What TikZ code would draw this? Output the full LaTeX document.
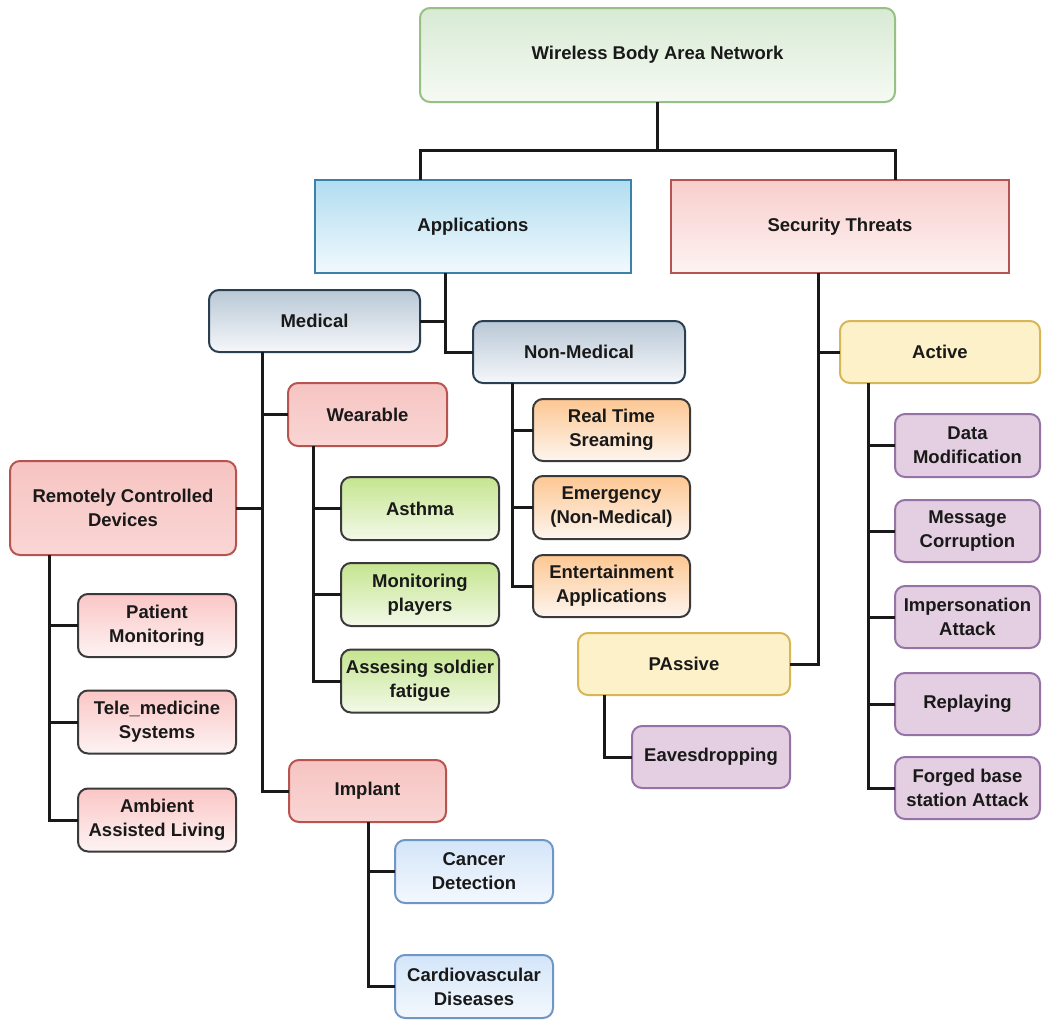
\documentclass[tikz,border=0pt]{standalone}
\usepackage{fontspec}
\setmainfont{Liberation Sans}
\begin{document}
\begin{tikzpicture}[x=1pt,y=-1pt,
  base/.style={draw, line width=2pt, rounded corners=10pt, inner sep=0pt, outer sep=0pt,
    align=center, font=\bfseries\fontsize{18.5}{24}\selectfont, text=black!90},
  grad/.style 2 args={top color=#1, bottom color=#2},
  link/.style={line width=3pt, black!90},
  rootbox/.style={base, grad={roottop}{rootbot}, draw=rootline},
  topbox/.style={base, rounded corners=0pt},
  groupbox/.style={base, grad={medtop}{medbot}, draw=medline},
  redbox/.style={base, grad={redtop}{redbot}, draw=redline},
  greenbox/.style={base, grad={greentop}{greenbot}, draw=darkline},
  orangebox/.style={base, grad={orangetop}{orangebot}, draw=darkline},
  pinkbox/.style={base, grad={pinktop}{pinkbot}, draw=darkline},
  bluebox/.style={base, grad={bluetop}{bluebot}, draw=blueline},
  yellowbox/.style={base, fill=yellowfill, draw=yellowline},
  purplebox/.style={base, fill=purplefill, draw=purpleline}
]
\definecolor{rootline}{HTML}{97C184}
\definecolor{roottop}{HTML}{D7EAD3}
\definecolor{rootbot}{HTML}{F6FAF4}
\definecolor{appline}{HTML}{3A82A8}
\definecolor{apptop}{HTML}{B1DDF0}
\definecolor{appbot}{HTML}{F2F9FD}
\definecolor{secline}{HTML}{B85450}
\definecolor{sectop}{HTML}{F8CECC}
\definecolor{secbot}{HTML}{FDF3F2}
\definecolor{medline}{HTML}{2B3F52}
\definecolor{medtop}{HTML}{B9C8D6}
\definecolor{medbot}{HTML}{F5F7FA}
\definecolor{redline}{HTML}{B85450}
\definecolor{redtop}{HTML}{F6C4C2}
\definecolor{redbot}{HTML}{F9D6D4}
\definecolor{darkline}{HTML}{3A3A3A}
\definecolor{greentop}{HTML}{C5E58F}
\definecolor{greenbot}{HTML}{F3F9E8}
\definecolor{orangetop}{HTML}{FDC792}
\definecolor{orangebot}{HTML}{FDF5EE}
\definecolor{pinktop}{HTML}{FBC6C6}
\definecolor{pinkbot}{HTML}{FDF3F3}
\definecolor{bluetop}{HTML}{D4E5F9}
\definecolor{bluebot}{HTML}{F3F8FD}
\definecolor{blueline}{HTML}{7096C6}
\definecolor{yellowfill}{HTML}{FDF1C9}
\definecolor{yellowline}{HTML}{D6B656}
\definecolor{purplefill}{HTML}{E4CFE2}
\definecolor{purpleline}{HTML}{9673A6}

% canvas
\fill[white] (0,0) rectangle (1050,1023);
\useasboundingbox (0,0) rectangle (1050,1023);

% x (or y) positions of the trunk lines
\coordinate (topbus) at (0,150);
\coordinate (appbus) at (445,0);
\coordinate (secbus) at (818,0);
\coordinate (medbus) at (262,0);
\coordinate (wearbus) at (313,0);
\coordinate (rcdbus) at (49,0);
\coordinate (impbus) at (368,0);
\coordinate (nmbus) at (512,0);
\coordinate (actbus) at (868,0);
\coordinate (pasbus) at (604,0);

% root and first level
\node[rootbox, minimum width=475, minimum height=94] (wban) at (657.5,55) {Wireless Body Area Network};
\node[topbox, grad={apptop}{appbot}, draw=appline, minimum width=316, minimum height=93] (apps) at (473,226.5) {Applications};
\node[topbox, grad={sectop}{secbot}, draw=secline, minimum width=338, minimum height=93] (sec) at (840,226.5) {Security Threats};

% applications branch
\node[groupbox, minimum width=211, minimum height=62] (med) at (314.5,321) {Medical};
\node[groupbox, minimum width=212, minimum height=62] (nonmed) at (579,352) {Non-Medical};

\node[redbox, minimum width=159, minimum height=63] (wear) at (367.5,414.5) {Wearable};
\node[redbox, minimum width=226, minimum height=94] (rcd) at (123,508) {Remotely Controlled\\Devices};
\node[redbox, minimum width=157, minimum height=62] (imp) at (367.5,791) {Implant};

\node[greenbox, minimum width=158, minimum height=63] (asthma) at (420,508.5) {Asthma};
\node[greenbox, minimum width=158, minimum height=63] (players) at (420,594.5) {Monitoring\\players};
\node[greenbox, minimum width=158, minimum height=63] (fatigue) at (420,681) {Assesing soldier\\fatigue};

\node[pinkbox, minimum width=158, minimum height=63] (patient) at (157,625.5) {Patient\\Monitoring};
\node[pinkbox, minimum width=158, minimum height=63] (tele) at (157,722) {Tele\_medicine\\Systems};
\node[pinkbox, minimum width=158, minimum height=63] (ambient) at (157,820) {Ambient\\Assisted Living};

\node[bluebox, minimum width=158, minimum height=63] (cancer) at (474,871.5) {Cancer\\Detection};
\node[bluebox, minimum width=158, minimum height=63] (cardio) at (474,986.5) {Cardiovascular\\Diseases};

\node[orangebox, minimum width=157, minimum height=62] (stream) at (611.5,430) {Real Time\\Sreaming};
\node[orangebox, minimum width=157, minimum height=63] (emerg) at (611.5,507.5) {Emergency\\(Non-Medical)};
\node[orangebox, minimum width=157, minimum height=62] (enter) at (611.5,586) {Entertainment\\Applications};

% security branch
\node[yellowbox, minimum width=200, minimum height=62] (active) at (940,352) {Active};
\node[yellowbox, minimum width=212, minimum height=62] (passive) at (684,664) {PAssive};
\node[purplebox, minimum width=158, minimum height=62] (eaves) at (711,757) {Eavesdropping};

\node[purplebox, minimum width=145, minimum height=63] (datamod) at (967.5,445.5) {Data\\Modification};
\node[purplebox, minimum width=145, minimum height=62] (corrupt) at (967.5,531) {Message\\Corruption};
\node[purplebox, minimum width=145, minimum height=62] (imperson) at (967.5,617) {Impersonation\\Attack};
\node[purplebox, minimum width=145, minimum height=62] (replay) at (967.5,704) {Replaying};
\node[purplebox, minimum width=145, minimum height=62] (forged) at (967.5,788) {Forged base\\station Attack};

% connectors
\draw[link] (wban.south) -- (wban.south |- topbus);
\draw[link] (apps.north -| wban.west) -- (wban.west |- topbus) -- (wban.east |- topbus) -- (sec.north -| wban.east);

\draw[link] (apps.south -| appbus) |- (nonmed.west);
\draw[link] (med.east) -- (med.east -| appbus);

\draw[link] (med.south -| medbus) |- (imp.west);
\draw[link] (wear.west) -- (wear.west -| medbus);
\draw[link] (rcd.east) -- (rcd.east -| medbus);

\draw[link] (wear.south -| wearbus) |- (fatigue.west);
\draw[link] (asthma.west) -- (asthma.west -| wearbus);
\draw[link] (players.west) -- (players.west -| wearbus);

\draw[link] (rcd.south -| rcdbus) |- (ambient.west);
\draw[link] (patient.west) -- (patient.west -| rcdbus);
\draw[link] (tele.west) -- (tele.west -| rcdbus);

\draw[link] (imp.south -| impbus) |- (cardio.west);
\draw[link] (cancer.west) -- (cancer.west -| impbus);

\draw[link] (nonmed.south -| nmbus) |- (enter.west);
\draw[link] (stream.west) -- (stream.west -| nmbus);
\draw[link] (emerg.west) -- (emerg.west -| nmbus);

\draw[link] (sec.south -| secbus) |- (passive.east);
\draw[link] (active.west) -- (active.west -| secbus);

\draw[link] (passive.south -| pasbus) |- (eaves.west);

\draw[link] (active.south -| actbus) |- (forged.west);
\draw[link] (datamod.west) -- (datamod.west -| actbus);
\draw[link] (corrupt.west) -- (corrupt.west -| actbus);
\draw[link] (imperson.west) -- (imperson.west -| actbus);
\draw[link] (replay.west) -- (replay.west -| actbus);
\end{tikzpicture}
\end{document}
